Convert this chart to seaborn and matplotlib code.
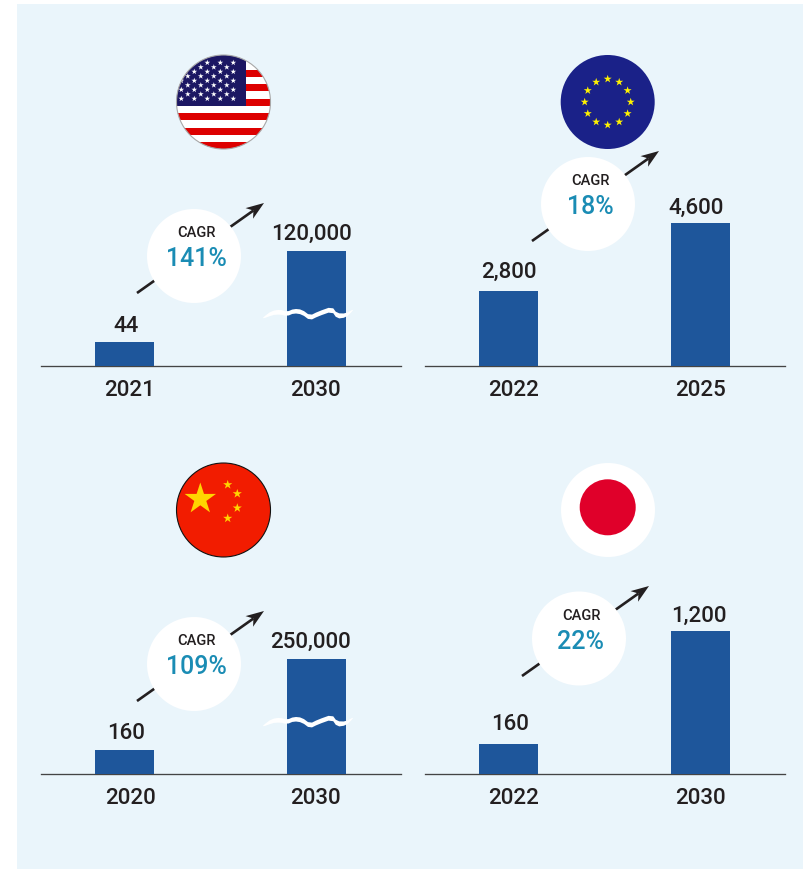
import numpy as np
import pandas as pd
import matplotlib
matplotlib.use("Agg")
import matplotlib.pyplot as plt
from matplotlib.patches import Circle, Polygon, Rectangle
from matplotlib.transforms import ScaledTranslation
import seaborn as sns

# Market size by region, first and last year of each forecast
us_years = ["2021", "2030"]
us_values = [44, 120000]
us_cagr = "141%"

eu_years = ["2022", "2025"]
eu_values = [2800, 4600]
eu_cagr = "18%"

cn_years = ["2020", "2030"]
cn_values = [160, 250000]
cn_cagr = "109%"

jp_years = ["2022", "2030"]
jp_values = [160, 1200]
jp_cagr = "22%"

BAR = "#1E569B"
INK = "#231F20"
TEAL = "#1A8CB4"
PANEL = "#EAF5FB"
W, H = 804, 870

sns.set_theme(style="white")
plt.rcParams["font.family"] = ["Roboto", "DejaVu Sans"]
plt.rcParams["font.weight"] = 500

fig = plt.figure(figsize=(W / 100, H / 100), dpi=100, facecolor="white")


def pixel_axes(zorder):
    ax = fig.add_axes([0, 0, 1, 1], zorder=zorder)
    ax.set_xlim(0, W)
    ax.set_ylim(H - 1, -1)
    ax.axis("off")
    ax.patch.set_alpha(0)
    return ax


back = pixel_axes(0)
back.add_patch(Rectangle((17, 4), W - 17, H, fc=PANEL, ec="none"))
over = pixel_axes(3)


def star_points(cx, cy, r, inner=0.382):
    ang = np.deg2rad(np.arange(10) * 36 - 90)
    rad = np.where(np.arange(10) % 2 == 0, r, r * inner)
    return np.column_stack([cx + rad * np.cos(ang), cy + rad * np.sin(ang)])


def star(cx, cy, r, color):
    over.add_patch(Polygon(star_points(cx, cy, r), fc=color, ec="none", zorder=6))


def broken_scale(values, heights):
    # Piecewise value axis: each bar reaches its own drawn height, gaps are compressed
    v = [0, values[0], values[1]]
    h = [0, heights[0], heights[1]]
    return (lambda a: np.interp(a, v, h), lambda a: np.interp(a, h, v))


def bar_panel(x0, base, years, values, heights, label_nudge, year_dx):
    frame = pd.DataFrame({"year": years, "value": values})
    top = heights[1]
    ax = fig.add_axes([x0 / W, 1 - base / H, 360 / W, top / H], zorder=1)
    ax.patch.set_alpha(0)
    sns.barplot(data=frame, x="year", y="value", ax=ax, color=BAR,
                saturation=1, width=0.307, linewidth=0, zorder=3)
    ax.set_yscale("function", functions=broken_scale(values, heights))
    ax.set_ylim(0, values[1])
    ax.set_xlim(-0.435, 1.44)
    ax.set_xlabel("")
    ax.set_ylabel("")
    ax.set_yticks([])
    sns.despine(ax=ax, left=True)
    ax.spines["bottom"].set_color("#444444")
    ax.spines["bottom"].set_linewidth(0.95)
    ax.spines["bottom"].set_zorder(2)
    ax.tick_params(axis="x", length=0, pad=9.4, labelsize=16, labelcolor=INK)
    for lab, dx in zip(ax.get_xticklabels(), year_dx):
        lab.set_transform(lab.get_transform() +
                          ScaledTranslation(dx / 100, 0, fig.dpi_scale_trans))
    texts = ax.bar_label(ax.containers[0], labels=[f"{v:,}" for v in values],
                         fontsize=16, color=INK)
    for t, (dx, dy) in zip(texts, label_nudge):
        t.xyann = (dx * 0.72, dy * 0.72)
    return ax


def cagr_badge(cx, cy, tx, ty, value, start, tip):
    start = np.array(start, float)
    tip = np.array(tip, float)
    d = (tip - start) / np.linalg.norm(tip - start)
    n = np.array([-d[1], d[0]])
    neck = tip - 13 * d
    over.plot([start[0], neck[0]], [start[1], neck[1]], color=INK, lw=1.9,
              solid_capstyle="butt", zorder=2)
    head = [tip, tip - 18 * d + 6.5 * n, neck, tip - 18 * d - 6.5 * n]
    over.add_patch(Polygon(head, fc=INK, ec="none", zorder=2))
    over.add_patch(Circle((cx, cy), 47, fc="white", ec="none", zorder=3))
    over.text(tx, ty - 25, "CAGR", ha="center", va="center", fontsize=10.5,
              color=INK, zorder=4)
    over.text(tx, ty + 1, value, ha="center", va="center", fontsize=18,
              color=TEAL, zorder=4)


def smooth(points, rounds=2):
    p = np.array(points, float)
    for _ in range(rounds):
        q = 0.75 * p[:-1] + 0.25 * p[1:]
        r = 0.25 * p[:-1] + 0.75 * p[1:]
        p = np.vstack([p[:1], np.column_stack([q, r]).reshape(-1, 2), p[-1:]])
    return p


def wave(dy):
    centre = [(263, 318), (272, 313), (280, 312), (287, 314), (294, 311),
              (302, 312), (310, 318), (318, 314), (332, 309), (337, 316),
              (346, 315.5), (353, 310)]
    thick = [0.2, 2.0, 2.4, 2.2, 2.2, 2.4, 2.4, 2.4, 2.4, 2.6, 1.8, 0.2]
    line = smooth(centre, rounds=1)
    half = np.interp(np.linspace(0, 1, len(line)), np.linspace(0, 1, len(thick)), thick)
    outline = np.vstack([np.column_stack([line[:, 0], line[:, 1] - half + dy]),
                         np.column_stack([line[:, 0], line[:, 1] + half + dy])[::-1]])
    over.add_patch(Polygon(outline, fc="white", ec="none", zorder=1))


# Bars
bar_panel(41, 366.5, us_years, us_values, (24, 115), [(1, 5), (-4.7, 7)], (4.5, -0.7))
bar_panel(425, 366.5, eu_years, eu_values, (75, 143), [(0.5, 9), (-4, 5)], (5.5, 0))
bar_panel(41, 774.5, cn_years, cn_values, (24, 115), [(1.5, 6), (-6, 7)], (5.5, -0.7))
bar_panel(425, 774.5, jp_years, jp_values, (30, 143), [(1.5, 9), (-1.5, 5)], (5.5, -0.5))
wave(0)
wave(408)

# Growth arrows and rate badges
cagr_badge(194, 256, 196, 257, us_cagr, (137, 293), (264, 203))
cagr_badge(588, 204, 590, 205, eu_cagr, (532, 241), (659, 151))
cagr_badge(194, 664, 196, 665, cn_cagr, (137, 701), (264, 611))
cagr_badge(579, 638.5, 581, 640, jp_cagr, (522, 676), (649, 586))

# United States flag
usc = (223.5, 102)
clip = Circle(usc, 47, transform=over.transData)
over.add_patch(Circle(usc, 47, fc="white", ec="none", zorder=4))
for y in [70, 84, 99, 113, 128, 142]:
    r = Rectangle((170, y), 110, 7, fc="#DD0000", ec="none", zorder=4)
    over.add_patch(r)
    r.set_clip_path(clip)
r = Rectangle((170, 50), 76, 55.7, fc="#1C1763", ec="none", zorder=5)
over.add_patch(r)
r.set_clip_path(clip)
for j in range(9):
    for k in range(9):
        if (j + k) % 2 == 0:
            s = Polygon(star_points(181.3 + 6.5 * k, 62.7 + 4.5 * j, 3.0),
                        fc="white", ec="none", zorder=6)
            over.add_patch(s)
            s.set_clip_path(clip)
over.add_patch(Circle(usc, 47, fc="none", ec="#A8A8A8", lw=0.8, zorder=7))

# European Union flag
euc = (607.7, 102)
over.add_patch(Circle(euc, 47, fc="#1A2188", ec="none", zorder=4))
for a in np.deg2rad(np.arange(12) * 30):
    star(euc[0] + 23 * np.cos(a), euc[1] + 23 * np.sin(a), 4.2, "#FFF200")

# China flag
cnc = (223.5, 510)
over.add_patch(Circle(cnc, 47, fc="#F21C00", ec="#111111", lw=0.8, zorder=4))
star(200.3, 499, 16.5, "#FFD500")
for sx, sy in [(227.7, 484.7), (237.3, 493.7), (237.3, 508), (227.7, 518.3)]:
    star(sx, sy, 4.8, "#FFD500")

# Japan flag
over.add_patch(Circle((608, 510), 47, fc="white", ec="none", zorder=4))
over.add_patch(Circle((607.7, 507.3), 28, fc="#E0002A", ec="none", zorder=5))

fig.savefig("out.png", dpi=100)
